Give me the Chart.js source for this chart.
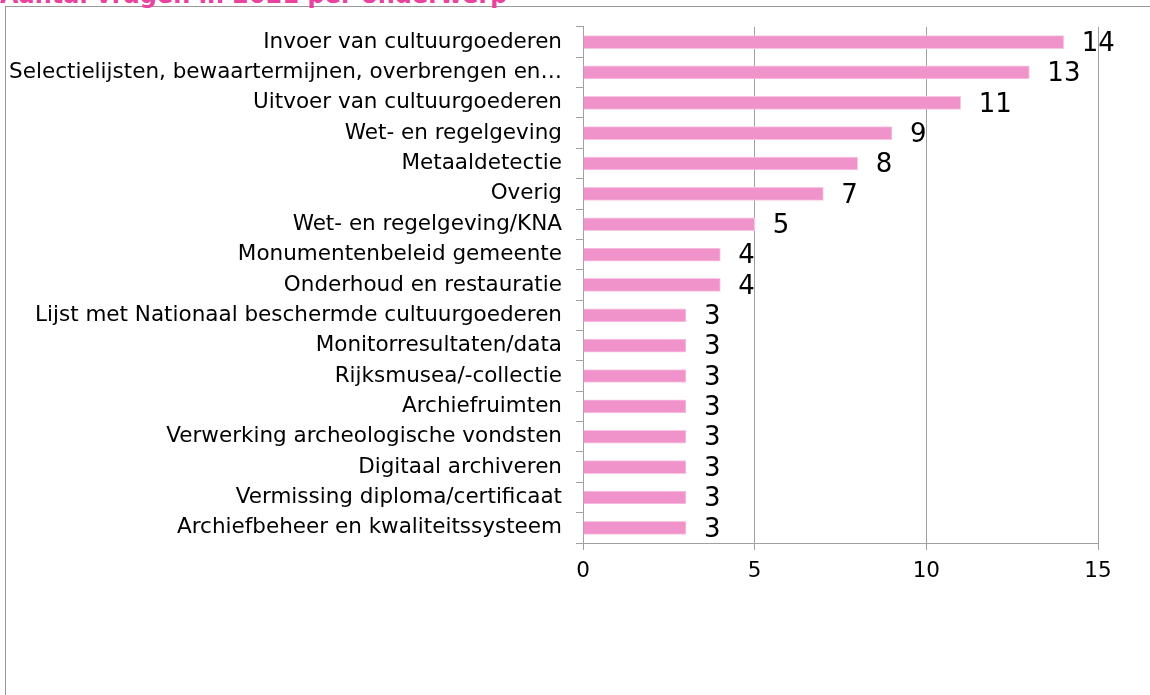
<!DOCTYPE html>
<html>
<head>
<meta charset="utf-8">
<script src="https://cdn.jsdelivr.net/npm/chart.js@4.4.1/dist/chart.umd.min.js"></script>
<style>
  html, body { margin: 0; padding: 0; background: #fff; overflow: hidden; }
  #wrap { position: relative; width: 1150px; height: 695px; }
  #frame { position: absolute; left: 5px; top: 6px; width: 1200px; height: 750px; border: 1px solid #999; box-sizing: border-box; }
  #title { position: absolute; left: 0; top: -17px; font: bold 24px 'DejaVu Sans', sans-serif; line-height: 24px; color: #E8449F; white-space: nowrap; }
  #myChart { position: absolute; left: 0; top: 0; }
</style>
</head>
<body>
<div id="wrap">
  <div id="frame"></div>
  <div id="title">Aantal vragen in 2021 per onderwerp</div>
  <canvas id="myChart" width="1150" height="695"></canvas>
</div>
<script>
    const topics = [
    'Invoer van cultuurgoederen',
    'Selectielijsten, bewaartermijnen, overbrengen en…',
    'Uitvoer van cultuurgoederen',
    'Wet- en regelgeving',
    'Metaaldetectie',
    'Overig',
    'Wet- en regelgeving/KNA',
    'Monumentenbeleid gemeente',
    'Onderhoud en restauratie',
    'Lijst met Nationaal beschermde cultuurgoederen',
    'Monitorresultaten/data',
    'Rijksmusea/-collectie',
    'Archiefruimten',
    'Verwerking archeologische vondsten',
    'Digitaal archiveren',
    'Vermissing diploma/certificaat',
    'Archiefbeheer en kwaliteitssysteem'
    ];
    const questions = [14, 13, 11, 9, 8, 7, 5, 4, 4, 3, 3, 3, 3, 3, 3, 3, 3];
    const xTicks = [0, 5, 10, 15];

    // value labels to the right of each bar
    const barLabels = {
    id: 'barLabels',
    afterDatasetsDraw(chart) {
    const c = chart.ctx;
    c.save();
    c.font = '26px "DejaVu Sans", sans-serif';
    c.fillStyle = '#000';
    c.textAlign = 'left';
    c.textBaseline = 'middle';
    chart.getDatasetMeta(0).data.forEach((bar, i) => {
    c.fillText(String(questions[i]), bar.x + 18, bar.y + 2);
});
    c.restore();
}
};

    const ctx = document.getElementById('myChart');

    new Chart(ctx, {
    type: 'bar',
    data: {
    labels: topics,
    datasets: [{
    label: 'Aantal vragen',
    data: questions,
    backgroundColor: '#F093CB',
    borderColor: '#F8C6E3',
    borderWidth: 1,
    barThickness: 13
}]
},
    options: {
    indexAxis: 'y',
    responsive: false,
    animation: false,
    layout: {
    padding: {left: 0, top: 25, right: 52, bottom: 0}
},
    plugins: {
    legend: {display: false},
    tooltip: {enabled: false}
},
    scales: {
    x: {
    min: 0,
    max: 15,
    afterBuildTicks: (scale) => {
    scale.ticks = xTicks.map(v => ({value: v}));
},
    afterFit: (scale) => { scale.height = 152; },
    grid: {color: '#A0A0A0', tickLength: 7},
    border: {color: '#A0A0A0'},
    ticks: {
    color: '#000',
    padding: 9,
    maxRotation: 0,
    font: {family: 'DejaVu Sans', size: 21.5}
}
},
    y: {
    afterFit: (scale) => { scale.width = 583; },
    grid: {drawOnChartArea: false, color: '#A0A0A0', tickLength: 7},
    border: {color: '#A0A0A0'},
    ticks: {
    color: '#000',
    padding: 14,
    autoSkip: false,
    font: {family: 'DejaVu Sans', size: 21.5}
}
}
}
},
    plugins: [barLabels]
});
</script>
</body>
</html>
